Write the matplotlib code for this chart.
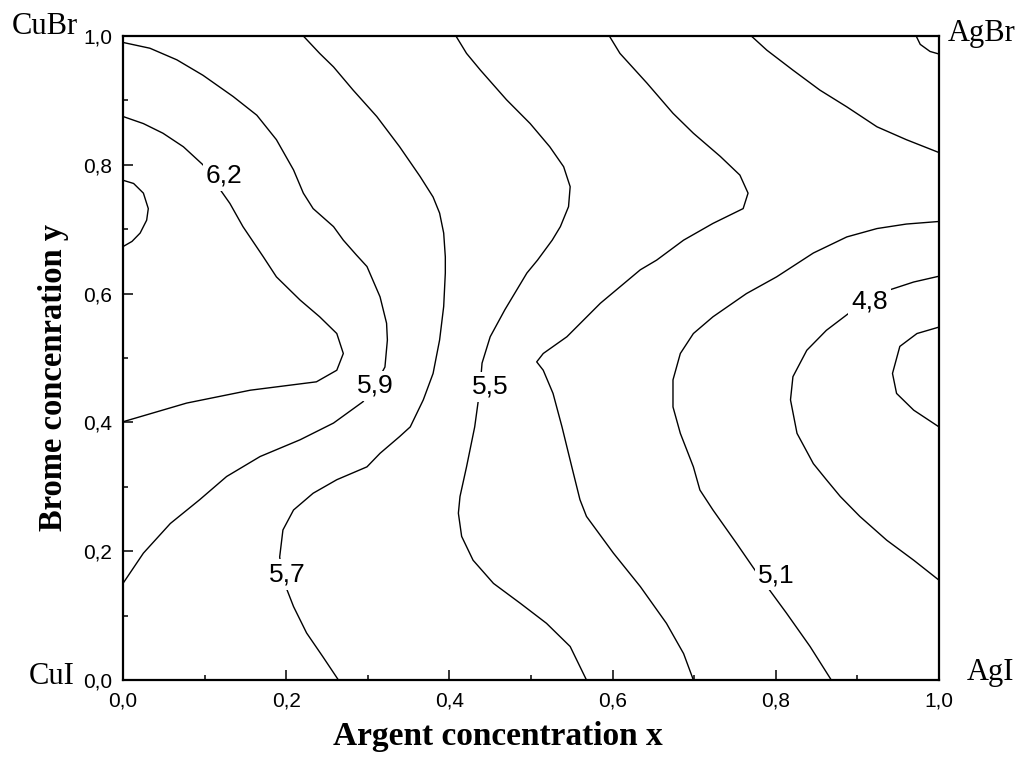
import numpy as np
import matplotlib
matplotlib.use("Agg")
import matplotlib.pyplot as plt
from matplotlib.ticker import MultipleLocator, FuncFormatter

plt.rcParams['font.family'] = ['Liberation Sans', 'DejaVu Sans']

# contour lines (x = Ag, y = Br)
c63_x = [0.0, 0.013, 0.025, 0.031, 0.029, 0.021, 0.011, 0.0]
c63_y = [0.776, 0.771, 0.756, 0.732, 0.714, 0.694, 0.681, 0.673]

c62_x = [0.0, 0.025, 0.049, 0.074, 0.098, 0.109, 0.121, 0.131, 0.147, 0.172, 0.188,
         0.217, 0.241, 0.262, 0.270, 0.262, 0.237, 0.156, 0.078, 0.0]
c62_y = [0.875, 0.864, 0.849, 0.828, 0.800, 0.780, 0.758, 0.740, 0.704, 0.657, 0.626,
         0.590, 0.564, 0.538, 0.507, 0.481, 0.463, 0.450, 0.430, 0.401]

c59_x = [0.0, 0.033, 0.066, 0.098, 0.135, 0.164, 0.188, 0.209, 0.221, 0.233, 0.258,
         0.270, 0.286, 0.299, 0.315, 0.323, 0.324, 0.321, 0.309, 0.294, 0.258, 0.217, 0.168,
         0.127, 0.094, 0.058, 0.025, 0.0]
c59_y = [0.990, 0.981, 0.963, 0.939, 0.906, 0.877, 0.839, 0.792, 0.756, 0.732, 0.704,
         0.683, 0.660, 0.642, 0.595, 0.554, 0.528, 0.486, 0.458, 0.432, 0.399, 0.373, 0.347,
         0.316, 0.280, 0.243, 0.197, 0.150]

c57_x = [0.221, 0.241, 0.258, 0.282, 0.311, 0.339, 0.364, 0.380, 0.388, 0.393, 0.395,
         0.395, 0.393, 0.388, 0.380, 0.368, 0.352, 0.339, 0.315, 0.299, 0.262, 0.233,
         0.209, 0.196, 0.192, 0.195, 0.201, 0.209, 0.225, 0.245, 0.264]
c57_y = [1.0, 0.973, 0.952, 0.916, 0.875, 0.828, 0.782, 0.750, 0.725, 0.694, 0.657,
         0.632, 0.580, 0.528, 0.476, 0.435, 0.393, 0.378, 0.352, 0.331, 0.311, 0.290,
         0.264, 0.233, 0.191, 0.166, 0.140, 0.114, 0.073, 0.036, 0.0]

c55_x = [0.408, 0.421, 0.438, 0.470, 0.499, 0.523, 0.540, 0.548, 0.546, 0.536, 0.526,
         0.508, 0.495, 0.468, 0.450, 0.440, 0.438, 0.435, 0.431, 0.421, 0.413, 0.411,
         0.415, 0.429, 0.454, 0.487, 0.519, 0.548, 0.568]
c55_y = [1.0, 0.973, 0.947, 0.901, 0.864, 0.828, 0.797, 0.766, 0.735, 0.704, 0.683,
         0.652, 0.632, 0.575, 0.533, 0.492, 0.461, 0.430, 0.393, 0.331, 0.285, 0.259,
         0.223, 0.186, 0.150, 0.119, 0.088, 0.052, 0.0]

c53_x = [0.596, 0.609, 0.642, 0.674, 0.699, 0.732, 0.756, 0.766, 0.760, 0.723, 0.687,
         0.654, 0.634, 0.585, 0.544, 0.515, 0.507, 0.515, 0.527, 0.538, 0.550, 0.560,
         0.568, 0.601, 0.634, 0.666, 0.687, 0.699]
c53_y = [1.0, 0.973, 0.927, 0.880, 0.849, 0.813, 0.784, 0.756, 0.732, 0.709, 0.683,
         0.652, 0.637, 0.585, 0.533, 0.507, 0.494, 0.481, 0.445, 0.393, 0.331, 0.280,
         0.254, 0.197, 0.145, 0.088, 0.041, 0.0]

c51a_x = [0.770, 0.789, 0.821, 0.854, 0.887, 0.924, 0.960, 1.0]
c51a_y = [1.0, 0.978, 0.947, 0.916, 0.890, 0.859, 0.839, 0.819]

c51b_x = [1.0, 0.960, 0.924, 0.887, 0.846, 0.801, 0.764, 0.723, 0.699, 0.683, 0.674,
          0.674, 0.683, 0.699, 0.707, 0.723, 0.752, 0.777, 0.783, 0.791, 0.813, 0.842,
          0.868]
c51b_y = [0.712, 0.708, 0.701, 0.688, 0.663, 0.626, 0.600, 0.564, 0.538, 0.507, 0.466,
          0.424, 0.383, 0.331, 0.295, 0.264, 0.212, 0.166, 0.154, 0.142, 0.104, 0.052,
          0.0]

c48_x = [1.0, 0.969, 0.940, 0.914, 0.889, 0.862, 0.838, 0.821, 0.818, 0.826, 0.846,
         0.862, 0.879, 0.903, 0.936, 0.969, 1.0]
c48_y = [0.627, 0.618, 0.606, 0.589, 0.569, 0.543, 0.512, 0.471, 0.435, 0.383, 0.336,
         0.311, 0.285, 0.254, 0.217, 0.186, 0.155]

c46_x = [1.0, 0.973, 0.952, 0.943, 0.948, 0.969, 1.0]
c46_y = [0.548, 0.538, 0.518, 0.476, 0.445, 0.419, 0.393]

c_corner_x = [0.972, 0.977, 0.989, 1.0]
c_corner_y = [1.0, 0.987, 0.976, 0.972]

# inline labels: text, x, y
label_text = ['6,2', '5,9', '5,7', '5,5', '5,1', '4,8']
label_x = [0.124, 0.309, 0.201, 0.450, 0.801, 0.915]
label_y = [0.783, 0.457, 0.164, 0.455, 0.163, 0.587]

lines = [(c63_x, c63_y), (c62_x, c62_y), (c59_x, c59_y), (c57_x, c57_y),
         (c55_x, c55_y), (c53_x, c53_y), (c51a_x, c51a_y), (c51b_x, c51b_y),
         (c48_x, c48_y), (c46_x, c46_y), (c_corner_x, c_corner_y)]

fig = plt.figure(figsize=(10.22, 7.6), dpi=100)
ax = fig.add_axes([123 / 1022, 1 - 680 / 760, 816 / 1022, 644 / 760])

for lx, ly in lines:
    ax.plot(lx, ly, color='black', linewidth=1.0, zorder=2,
            solid_joinstyle='round', solid_capstyle='round')

for t, lx, ly in zip(label_text, label_x, label_y):
    ax.text(lx, ly, t, fontsize=19, ha='center', va='center', zorder=3,
            family=['Liberation Sans', 'DejaVu Sans'],
            bbox=dict(boxstyle='square,pad=0.12', fc='white', ec='none'))

ax.set_xlim(0, 1)
ax.set_ylim(0, 1)
ax.xaxis.set_major_locator(MultipleLocator(0.2))
ax.xaxis.set_minor_locator(MultipleLocator(0.1))
ax.yaxis.set_major_locator(MultipleLocator(0.2))
ax.yaxis.set_minor_locator(MultipleLocator(0.1))
fmt = FuncFormatter(lambda v, _: f"{v:.1f}".replace('.', ','))
ax.xaxis.set_major_formatter(fmt)
ax.yaxis.set_major_formatter(fmt)
ax.tick_params(which='major', direction='in', length=7.5, width=1.1, labelsize=15, pad=8)
ax.tick_params(which='minor', direction='in', length=3.8, width=1.1)
for s in ax.spines.values():
    s.set_linewidth(1.6)

ax.set_xlabel('Argent concentration x', fontsize=24, fontweight='bold',
              family=['Liberation Serif', 'DejaVu Serif'])
ax.xaxis.set_label_coords(0.4596, -0.064)
ax.set_ylabel('Brome concenration y', fontsize=23.5, fontweight='bold',
              family=['Liberation Serif', 'DejaVu Serif'])
ax.yaxis.set_label_coords(-0.066, 0.470)

serif = ['Liberation Serif', 'DejaVu Serif']
fig.text(12 / 1022, 1 - 34 / 760, 'CuBr', fontsize=22, family=serif, ha='left', va='baseline')
fig.text(948 / 1022, 1 - 41 / 760, 'AgBr', fontsize=22, family=serif, ha='left', va='baseline')
fig.text(29 / 1022, 1 - 684 / 760, 'CuI', fontsize=22, family=serif, ha='left', va='baseline')
fig.text(967 / 1022, 1 - 680 / 760, 'AgI', fontsize=22, family=serif, ha='left', va='baseline')

fig.savefig('out.png', dpi=100)
